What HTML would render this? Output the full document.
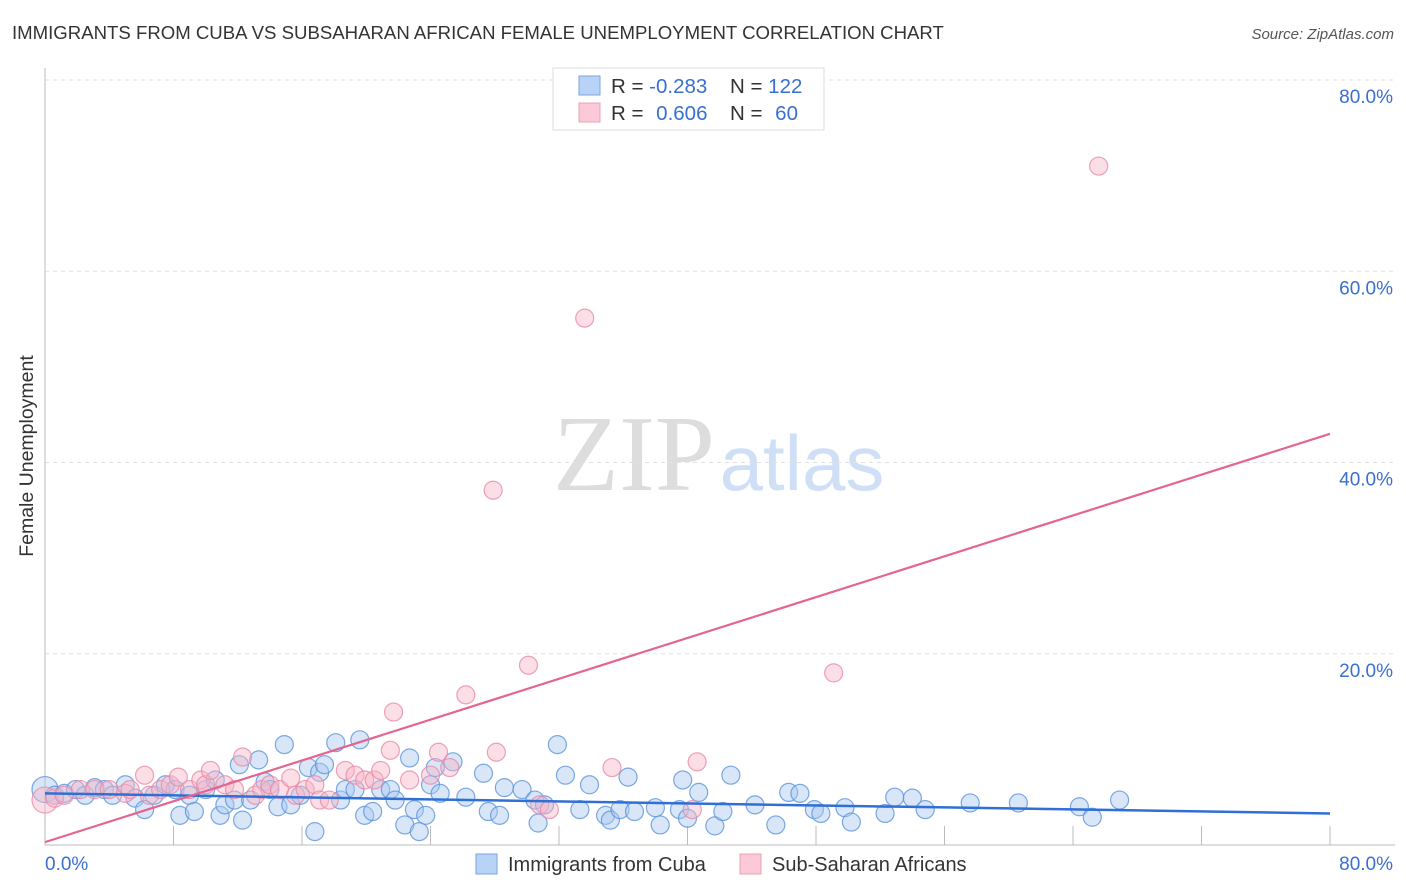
<!DOCTYPE html>
<html><head><meta charset="utf-8"><style>
body{margin:0;background:#fff;font-family:"Liberation Sans",sans-serif}
svg{display:block}
</style></head><body>
<svg id="chart" width="1406" height="892" viewBox="0 0 1406 892" xmlns="http://www.w3.org/2000/svg">
<text x="12" y="39" font-size="18.6" fill="#333">IMMIGRANTS FROM CUBA VS SUBSAHARAN AFRICAN FEMALE UNEMPLOYMENT CORRELATION CHART</text>
<text x="1394" y="39" font-size="15" fill="#555" font-style="italic" text-anchor="end">Source: ZipAtlas.com</text>
<text x="634" y="490" font-size="108" font-family="Liberation Serif,serif" fill="#ddd" text-anchor="middle">ZIP</text>
<text x="802" y="490" font-size="78" fill="#cfe0f6" text-anchor="middle">atlas</text>
<g id="grid"></g><g id="axes"></g><g id="pts"></g><g id="trends"></g>
<text transform="translate(33,456) rotate(-90)" font-size="19.5" fill="#333" text-anchor="middle">Female Unemployment</text>
<g>
<rect x="553" y="68" width="271" height="62" fill="#fff" stroke="#ddd"/>
<rect x="579" y="76" width="21" height="19" fill="#b8d3f5" stroke="#7aa6e0"/>
<rect x="579" y="103" width="21" height="19" fill="#fbc9d7" stroke="#eda0b6"/>
<text x="611" y="93" font-size="20.5" fill="#333">R = <tspan fill="#3a6fd0">-0.283</tspan></text>
<text x="730" y="93" font-size="20.5" fill="#333">N = <tspan fill="#3a6fd0">122</tspan></text>
<text x="611" y="120" font-size="20.5" fill="#333">R = <tspan fill="#3a6fd0" dx="7">0.606</tspan></text>
<text x="730" y="120" font-size="20.5" fill="#333">N = <tspan fill="#3a6fd0" dx="7">60</tspan></text>
</g>
<g>
<rect x="476" y="854" width="21" height="20" fill="#b8d3f5" stroke="#7aa6e0"/>
<text x="508" y="871" font-size="20" fill="#333">Immigrants from Cuba</text>
<rect x="740" y="854" width="21" height="20" fill="#fbc9d7" stroke="#eda0b6"/>
<text x="772" y="871" font-size="20" fill="#333">Sub-Saharan Africans</text>
</g>
</svg>
<script>
const blueX=[0,0.6,1.2,1.9,2.5,3.1,3.7,4.2,5.0,5.6,6.2,6.8,7.5,8.1,8.4,9.0,9.3,10.0,10.6,10.9,11.2,11.8,12.1,12.3,12.8,13.3,13.7,14.0,14.5,14.9,15.3,15.9,16.4,16.8,17.1,17.4,18.1,18.4,18.7,19.3,19.6,19.9,20.4,20.9,21.5,21.8,22.4,22.7,23.0,23.3,23.7,24.0,24.3,24.6,25.4,26.2,27.3,27.6,28.3,28.6,29.7,30.5,30.7,31.1,31.9,32.4,33.3,33.9,34.9,35.2,35.8,36.3,36.7,38.0,38.3,39.5,39.7,40.0,40.7,41.7,42.2,42.7,44.2,45.5,46.3,47.0,47.9,48.3,49.8,50.2,52.3,52.9,54.0,54.8,57.6,60.6,64.4,65.2,66.9];
const blueY=[5.8,5.2,5.4,5.8,5.2,6.0,5.8,5.2,6.3,4.9,3.7,5.2,6.3,5.8,3.1,5.2,3.5,5.8,6.8,3.1,4.2,4.7,8.4,2.6,4.7,8.9,6.6,5.8,4.0,10.5,4.2,5.2,8.1,1.4,7.6,8.4,10.7,4.7,5.8,5.8,11.0,3.1,3.5,5.8,5.8,4.7,2.1,9.1,3.7,1.4,3.1,6.3,8.1,5.4,8.7,5.0,7.5,3.5,3.1,6.0,5.8,4.7,2.3,4.2,10.5,7.3,3.7,6.3,3.1,2.6,3.7,7.1,3.5,3.9,2.1,3.7,6.8,2.8,5.5,2.0,3.5,7.3,4.2,2.1,5.5,5.4,3.7,3.3,3.9,2.4,3.3,5.0,4.9,3.7,4.4,4.4,4.0,2.9,4.7];
const pinkX=[0,0.6,1.2,2.2,3.1,4.0,5.0,5.3,6.2,6.5,7.2,7.8,8.3,9.0,9.7,10.0,10.3,11.2,11.8,12.3,13.1,13.5,14.0,14.6,15.3,15.6,16.2,16.8,17.1,17.7,18.7,19.3,19.9,20.5,20.9,21.5,21.7,22.7,24.0,24.5,25.2,26.2,27.9,28.1,30.1,30.8,31.4,33.6,35.3,40.3,40.6,49.1,65.6];
const pinkY=[4.7,4.9,5.2,5.8,5.8,5.8,5.4,5.8,7.3,5.2,5.8,6.3,7.1,5.8,6.8,6.3,7.8,6.3,5.8,9.2,5.2,5.8,6.3,5.8,7.0,5.2,5.8,6.3,4.7,4.7,7.8,7.3,6.8,6.8,7.8,9.9,13.9,6.8,7.3,9.7,8.1,15.7,37.1,9.7,18.8,4.2,3.7,55.1,8.1,3.7,8.7,18.0,71.0];
const trendX=[0,80];
const blueTrendY=[5.4,3.3];
const pinkTrendY=[0.3,43.0];
const yTicks=[20,40,60,80];
const yTickLabels=["20.0%","40.0%","60.0%","80.0%"];
const xTicks=[0,8,16,24,32,40,48,56,64,72,80];
const NS="http://www.w3.org/2000/svg";
const X=v=>45+v*(1285/80), Y=v=>845-v*(765/80);
function mk(p,t,a){const e=document.createElementNS(NS,t);for(const k in a)e.setAttribute(k,a[k]);document.getElementById(p).appendChild(e);return e;}
yTicks.forEach((t,i)=>{
 const g=mk('grid','line',{x1:45,x2:1395,y1:Y(t),y2:Y(t),stroke:'#e2e2e2','stroke-dasharray':'4 4'});
 
 
 const l=mk('grid','text',{x:1393,y:Y(t)+23,'font-size':19,fill:'#3a6fd0','text-anchor':'end'});
 l.textContent=yTickLabels[i];
 
 
});
const ax=mk('axes','path',{d:`M45,68V${Y(0)}H1395`,stroke:'#bbb',fill:'none'});


xTicks.forEach(t=>{const tk=mk('axes','line',{x1:X(t),x2:X(t),y1:Y(0),y2:Y(0)-19,stroke:'#bbb'});
 
 });
const x0=mk('axes','text',{x:45,y:870,'font-size':19,fill:'#3a6fd0'});x0.textContent="0.0%";


const x1=mk('axes','text',{x:1393,y:870,'font-size':19,fill:'#3a6fd0','text-anchor':'end'});x1.textContent="80.0%";


function pts(xs,ys,fill,stroke,name){xs.forEach((v,i)=>{
 const c=mk('pts','circle',{cx:X(v),cy:Y(ys[i]),r:(i===0?13:9),fill:fill,'fill-opacity':0.45,stroke:stroke,'stroke-width':1.2,'stroke-opacity':0.8});
 
 });}
pts(blueX,blueY,'#a8c8f0','#5b93dc','cuba-point');
pts(pinkX,pinkY,'#f7b6c8','#e88aa6','subsaharan-point');
const bt=mk('trends','line',{x1:X(trendX[0]),y1:Y(blueTrendY[0]),x2:X(trendX[1]),y2:Y(blueTrendY[1]),stroke:'#2f6fd6','stroke-width':2.5});


const pt=mk('trends','line',{x1:X(trendX[0]),y1:Y(pinkTrendY[0]),x2:X(trendX[1]),y2:Y(pinkTrendY[1]),stroke:'#e36590','stroke-width':2.2});


</script>
</body></html>
